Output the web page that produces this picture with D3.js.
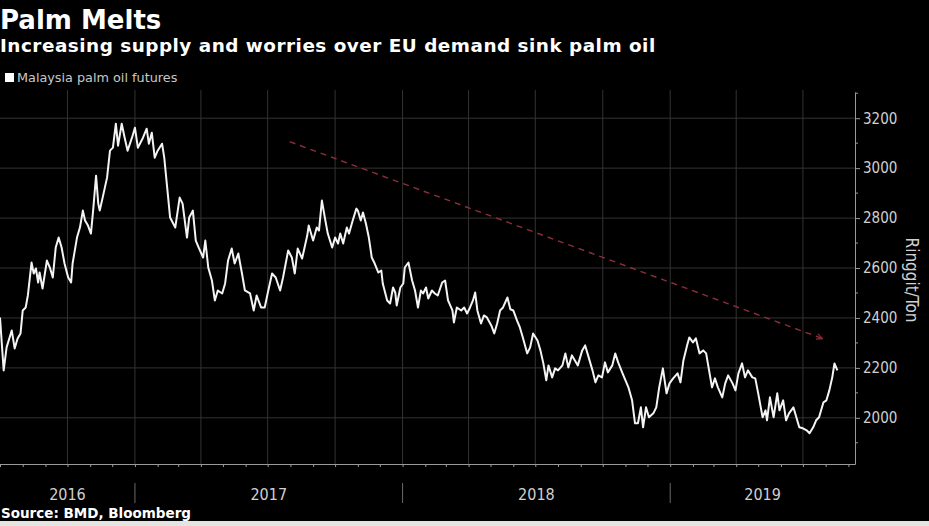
<!DOCTYPE html>
<html>
<head>
<meta charset="utf-8">
<script src="https://cdn.jsdelivr.net/npm/d3@7"></script>
<style>
  body { margin:0; background:#000; }
  svg { display:block; }
  .grid line { stroke:#333; stroke-width:1; }
  .grid path { display:none; }
  .axis path, .axis line { stroke:#9a9a9a; }
  .axis text { fill:#d0d0d0; font-family:"Liberation Sans Narrow","DejaVu Sans Condensed","Liberation Sans",sans-serif; }
</style>
</head>
<body>
<svg id="chart" width="929" height="526"></svg>
<script>
// Malaysia palm oil futures (ringgit/ton)
const dates = [
 "2016-07-01","2016-07-06","2016-07-10","2016-07-17","2016-07-21","2016-07-25","2016-07-29","2016-08-01","2016-08-05","2016-08-08",
 "2016-08-13","2016-08-16","2016-08-19","2016-08-22","2016-08-24","2016-08-28","2016-09-03","2016-09-07","2016-09-11","2016-09-15",
 "2016-09-19","2016-09-23","2016-09-27","2016-10-02","2016-10-06","2016-10-08","2016-10-14","2016-10-18","2016-10-22","2016-10-25",
 "2016-10-29","2016-11-02","2016-11-05","2016-11-09","2016-11-12","2016-11-14","2016-11-18","2016-11-24","2016-11-28","2016-12-02",
 "2016-12-06","2016-12-09","2016-12-14","2016-12-18","2016-12-22","2016-12-28","2017-01-01","2017-01-05","2017-01-12","2017-01-17",
 "2017-01-20","2017-01-24","2017-01-28","2017-02-01","2017-02-07","2017-02-10","2017-02-14","2017-02-18","2017-02-25","2017-03-03",
 "2017-03-07","2017-03-13","2017-03-16","2017-03-21","2017-03-25","2017-03-29","2017-04-04","2017-04-07","2017-04-11","2017-04-16",
 "2017-04-20","2017-04-24","2017-04-30","2017-05-04","2017-05-08","2017-05-13","2017-05-17","2017-05-22","2017-05-27","2017-05-31",
 "2017-06-07","2017-06-12","2017-06-16","2017-06-22","2017-06-27","2017-07-01","2017-07-07","2017-07-12","2017-07-18","2017-07-22",
 "2017-07-29","2017-08-03","2017-08-07","2017-08-11","2017-08-17","2017-08-24","2017-08-26","2017-09-01","2017-09-06","2017-09-09",
 "2017-09-13","2017-09-17","2017-09-21","2017-09-27","2017-10-01","2017-10-05","2017-10-08","2017-10-12","2017-10-17","2017-10-20",
 "2017-10-25","2017-10-30","2017-11-01","2017-11-05","2017-11-08","2017-11-12","2017-11-16","2017-11-20","2017-11-24","2017-11-29",
 "2017-12-03","2017-12-05","2017-12-11","2017-12-15","2017-12-19","2017-12-22","2017-12-24","2017-12-29","2018-01-02","2018-01-04",
 "2018-01-09","2018-01-14","2018-01-18","2018-01-22","2018-01-26","2018-01-29","2018-02-02","2018-02-05","2018-02-10","2018-02-14",
 "2018-02-18","2018-02-24","2018-02-28","2018-03-04","2018-03-10","2018-03-12","2018-03-16","2018-03-22","2018-03-26","2018-03-30",
 "2018-04-03","2018-04-07","2018-04-10","2018-04-13","2018-04-18","2018-04-22","2018-04-26","2018-05-02","2018-05-06","2018-05-10",
 "2018-05-14","2018-05-18","2018-05-24","2018-05-28","2018-06-01","2018-06-06","2018-06-10","2018-06-14","2018-06-20","2018-06-24",
 "2018-06-28","2018-07-04","2018-07-08","2018-07-12","2018-07-16","2018-07-19","2018-07-24","2018-07-28","2018-08-01","2018-08-07",
 "2018-08-11","2018-08-15","2018-08-20","2018-08-24","2018-08-28","2018-09-03","2018-09-07","2018-09-11","2018-09-17","2018-09-21",
 "2018-09-25","2018-09-30","2018-10-04","2018-10-08","2018-10-14","2018-10-18","2018-10-22","2018-10-28","2018-11-01","2018-11-05",
 "2018-11-10","2018-11-14","2018-11-18","2018-11-22","2018-11-25","2018-11-29","2018-12-03","2018-12-09","2018-12-13","2018-12-17",
 "2018-12-22","2018-12-27","2018-12-31","2019-01-05","2019-01-11","2019-01-15","2019-01-19","2019-01-24","2019-01-27","2019-02-01",
 "2019-02-05","2019-02-10","2019-02-15","2019-02-19","2019-02-23","2019-02-27","2019-03-03","2019-03-07","2019-03-13","2019-03-17",
 "2019-03-21","2019-03-27","2019-03-31","2019-04-04","2019-04-09","2019-04-13","2019-04-17","2019-04-23","2019-04-27","2019-05-01",
 "2019-05-07","2019-05-11","2019-05-13","2019-05-17","2019-05-22","2019-05-27","2019-05-30","2019-06-04","2019-06-08","2019-06-12",
 "2019-06-18","2019-06-22","2019-06-26","2019-07-01","2019-07-06","2019-07-10","2019-07-15","2019-07-19","2019-07-23","2019-07-29",
 "2019-08-02","2019-08-06","2019-08-10","2019-08-13","2019-08-17"
];
const prices = [
 2402,2190,2282,2350,2278,2318,2338,2430,2442,2490,
 2622,2578,2598,2542,2582,2518,2630,2602,2562,2682,
 2722,2682,2618,2562,2542,2618,2722,2762,2830,2790,
 2770,2738,2830,2970,2858,2830,2882,2962,3070,3082,
 3178,3090,3178,3122,3070,3122,3162,3082,3122,3158,
 3098,3142,3042,3070,3098,3042,2922,2802,2762,2882,
 2858,2722,2802,2830,2710,2682,2642,2710,2602,2550,
 2470,2510,2498,2538,2630,2678,2618,2658,2578,2510,
 2498,2430,2490,2442,2442,2498,2578,2562,2510,2562,
 2670,2642,2578,2678,2638,2730,2770,2710,2762,2750,
 2870,2802,2738,2682,2722,2698,2738,2698,2762,2738,
 2790,2838,2830,2790,2822,2778,2722,2642,2618,2582,
 2590,2538,2470,2458,2522,2502,2450,2522,2538,2602,
 2622,2550,2510,2442,2510,2498,2522,2478,2510,2498,
 2490,2542,2550,2470,2430,2382,2442,2430,2442,2418,
 2442,2470,2502,2430,2378,2410,2402,2370,2338,2378,
 2430,2442,2482,2435,2430,2390,2362,2322,2258,2282,
 2338,2310,2270,2218,2150,2210,2162,2198,2190,2210,
 2258,2202,2250,2230,2210,2270,2290,2250,2190,2142,
 2170,2162,2222,2182,2210,2258,2222,2178,2150,2122,
 2070,1978,1978,2042,1962,2042,2002,2018,2042,2122,
 2198,2098,2138,2158,2178,2142,2230,2290,2322,2302,
 2318,2258,2270,2258,2190,2122,2158,2122,2082,2138,
 2170,2138,2110,2178,2218,2162,2190,2162,2158,2098,
 2002,2030,1990,2082,2002,2098,2030,2070,1990,2018,
 2042,2002,1962,1958,1950,1938,1962,1990,2002,2062,
 2070,2110,2162,2218,2190
];
const yTicks = [2000, 2200, 2400, 2600, 2800, 3000, 3200];
const yMinorTicks = [1900, 2100, 2300, 2500, 2700, 2900, 3100, 3300];
const yearLabels = ["2016", "2017", "2018", "2019"];
// dashed downtrend arrow: [date, price] at each end
const trendArrow = [["2017-07-31", 3106], ["2019-07-27", 2318]];

const parseDate = d3.timeParse("%Y-%m-%d");
const series = dates.map((d, i) => ({date: parseDate(d), value: prices[i]}));

const svg = d3.select("#chart");
const plot = {left: 0, right: 855, top: 92, bottom: 464};

const xScale = d3.scaleTime()
    .domain([parseDate("2016-07-01"), parseDate("2019-09-10")])
    .range([plot.left, plot.right]);
const yScale = d3.scaleLinear()
    .domain([1815, 3305])
    .range([plot.bottom, plot.top]);

svg.append("rect").attr("width", 929).attr("height", 526).attr("fill", "#000");
svg.append("rect").attr("y", 521).attr("width", 929).attr("height", 5).attr("fill", "#e4e4e0");

// gridlines
const quarters = d3.timeMonth.every(3).range(parseDate("2016-08-01"), parseDate("2019-09-01"));
svg.append("g").attr("class", "grid")
    .selectAll("line").data(quarters).enter().append("line")
    .attr("x1", d => xScale(d)).attr("x2", d => xScale(d))
    .attr("y1", 90).attr("y2", plot.bottom);
svg.append("g").attr("class", "grid")
    .selectAll("line").data(yTicks).enter().append("line")
    .attr("x1", plot.left).attr("x2", plot.right)
    .attr("y1", d => yScale(d)).attr("y2", d => yScale(d));

// trend arrow
svg.append("defs").append("marker")
    .attr("id", "head").attr("viewBox", "0 0 10 10")
    .attr("refX", 8).attr("refY", 5)
    .attr("markerWidth", 5).attr("markerHeight", 5)
    .attr("orient", "auto")
    .append("path").attr("d", "M0,1 L9,5 L0,9").attr("fill", "none")
    .attr("stroke", "#8c2f3a").attr("stroke-width", 1.6);
svg.append("line")
    .attr("x1", xScale(parseDate(trendArrow[0][0]))).attr("y1", yScale(trendArrow[0][1]))
    .attr("x2", xScale(parseDate(trendArrow[1][0]))).attr("y2", yScale(trendArrow[1][1]))
    .attr("stroke", "#8c2f3a").attr("stroke-width", 1.4)
    .attr("stroke-dasharray", "6,5")
    .attr("marker-end", "url(#head)");

// price line
const lineData = d3.line()
    .curve(d3.curveLinear)
    .x(d => xScale(d.date))
    .y(d => yScale(d.value));
svg.append("path")
    .datum(series)
    .attr("d", lineData)
    .attr("fill", "none")
    .attr("stroke", "#f4f4f4")
    .attr("stroke-width", 2)
    .attr("stroke-linejoin", "round");

// right axis
const yAxis = svg.append("g").attr("class", "axis")
    .attr("transform", "translate(" + plot.right + ",0)")
    .call(d3.axisRight(yScale).tickValues(yTicks).tickFormat(d3.format("d"))
        .tickSize(5).tickSizeOuter(0).tickPadding(3));
yAxis.selectAll("text").style("font-size", "15px");
yAxis.selectAll(".minor").data(yMinorTicks.filter(d => yScale(d) > plot.top)).enter()
    .append("line").attr("class", "minor")
    .attr("x1", 0).attr("x2", 3)
    .attr("y1", d => yScale(d)).attr("y2", d => yScale(d));

svg.append("text")
    .attr("transform", "translate(906,280) rotate(90)")
    .attr("text-anchor", "middle")
    .attr("fill", "#d0d0d0")
    .style("font-family", "'DejaVu Sans Condensed','DejaVu Sans',sans-serif")
    .style("font-size", "17px")
    .text("Ringgit/Ton");

// bottom axis: monthly ticks, year separators, year labels
svg.append("g").attr("class", "axis")
    .attr("transform", "translate(0," + plot.bottom + ")")
    .call(d3.axisBottom(xScale).ticks(d3.timeMonth.every(1)).tickSize(3).tickSizeOuter(0).tickFormat(""));

const years = yearLabels.map(y => parseDate(y + "-01-01"));
svg.selectAll(".yearSep").data(years.slice(1)).enter()
    .append("line").attr("class", "yearSep")
    .attr("x1", d => xScale(d)).attr("x2", d => xScale(d))
    .attr("y1", 483).attr("y2", 503)
    .attr("stroke", "#6a6a6a");
svg.selectAll(".yearLabel").data(years).enter()
    .append("text").attr("class", "yearLabel")
    .attr("x", d => {
        const a = Math.max(xScale(d), plot.left);
        const b = Math.min(xScale(d3.timeYear.offset(d, 1)), plot.right);
        return (a + b) / 2;
    })
    .attr("y", 500)
    .attr("text-anchor", "middle")
    .attr("fill", "#d0d0d0")
    .style("font-family", "'Liberation Sans Narrow','DejaVu Sans Condensed',sans-serif")
    .style("font-size", "16px")
    .text((d, i) => yearLabels[i]);

// titles, legend, source
svg.append("text").attr("x", 0).attr("y", 29)
    .attr("fill", "#fff").style("font-family", "'DejaVu Sans',sans-serif")
    .style("font-weight", "bold").style("font-size", "26px")
    .text("Palm Melts");
svg.append("text").attr("x", 0).attr("y", 52)
    .attr("fill", "#fff").style("font-family", "'DejaVu Sans',sans-serif")
    .style("font-weight", "bold").style("font-size", "18.4px")
    .style("letter-spacing", "0.5px")
    .text("Increasing supply and worries over EU demand sink palm oil");
svg.append("rect").attr("x", 5).attr("y", 73).attr("width", 9).attr("height", 9).attr("fill", "#fff");
svg.append("text").attr("x", 17).attr("y", 82)
    .attr("fill", "#c8c8c8").style("font-family", "'DejaVu Sans',sans-serif")
    .style("font-size", "12.8px")
    .text("Malaysia palm oil futures");
svg.append("text").attr("x", 1).attr("y", 518)
    .attr("fill", "#fff").style("font-family", "'DejaVu Sans',sans-serif")
    .style("font-weight", "bold").style("font-size", "13.5px")
    .text("Source: BMD, Bloomberg");
</script>
</body>
</html>
